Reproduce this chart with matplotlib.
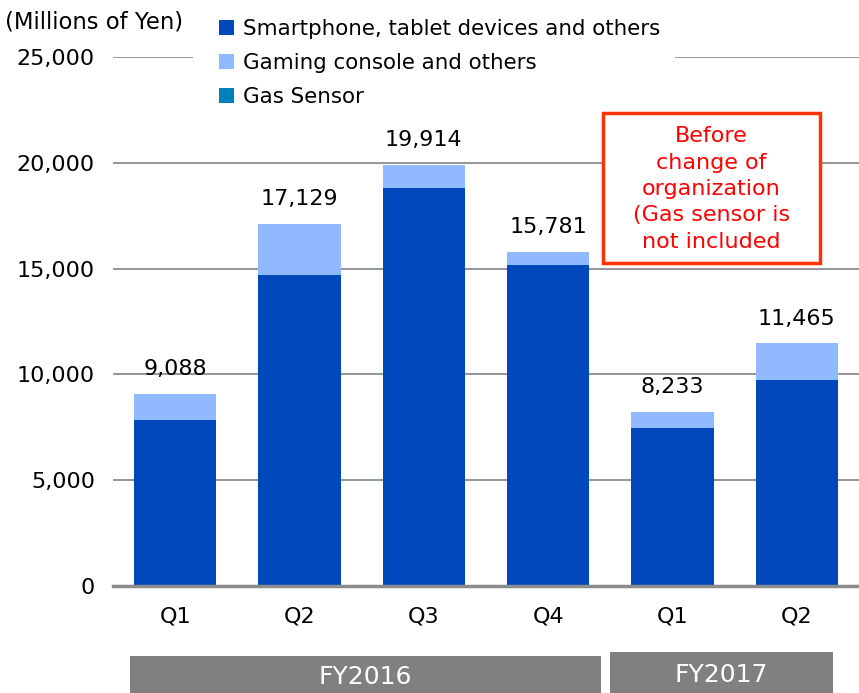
import matplotlib.pyplot as plt
from matplotlib.patches import Rectangle
import numpy as np

# quarterly sales by segment (millions of yen)
quarters = ['Q1', 'Q2', 'Q3', 'Q4', 'Q1', 'Q2']
totals = [9088, 17129, 19914, 15781, 8233, 11465]
smartphone = [7850, 14700, 18830, 15180, 7450, 9740]
gaming = [t - s for t, s in zip(totals, smartphone)]
gas_sensor = [0, 0, 0, 0, 0, 0]
years = ['FY2016', 'FY2017']
series_names = ['Smartphone, tablet devices and others',
                'Gaming console and others',
                'Gas Sensor']
note = 'Before\nchange of\norganization\n(Gas sensor is\nnot included'

dark = '#0047BB'
light = '#91B9FF'
teal = '#0080BC'
grid_col = '#8c8c8c'

plt.rcParams['font.family'] = 'DejaVu Sans'
W, H = 859, 693
fig = plt.figure(figsize=(W / 100, H / 100), dpi=100)
ax = fig.add_axes([113 / W, 107 / H, 746 / W, 529 / H])

x = np.arange(len(quarters))
w = 0.66
b1 = ax.bar(x, smartphone, w, color=dark, zorder=3)
b2 = ax.bar(x, gaming, w, bottom=smartphone, color=light, zorder=3)
b3 = ax.bar(x, gas_sensor, w, bottom=totals, color=teal, zorder=3)

for xi, t in zip(x, totals):
    ax.text(xi, t + 880, f'{t:,}', ha='center', va='baseline', fontsize=16)

ax.set_xlim(-0.5, len(quarters) - 0.5)
ax.set_ylim(0, 25000)
ax.set_yticks(range(0, 25001, 5000))
ax.set_yticklabels([f'{v:,}' for v in range(0, 25001, 5000)])
ax.set_xticks(x)
ax.set_xticklabels(quarters)
ax.tick_params(axis='y', length=0, labelsize=16, pad=13)
ax.tick_params(axis='x', length=0, labelsize=16, pad=15)
ax.yaxis.grid(True, color=grid_col, lw=1.3, zorder=0)
for s in ['top', 'right', 'left']:
    ax.spines[s].set_visible(False)
ax.spines['bottom'].set_color(grid_col)
ax.spines['bottom'].set_linewidth(2.5)
ax.spines['bottom'].set_zorder(4)

# white strip behind the legend so the top gridline is broken there
fig.patches.append(Rectangle((193 / W, (H - 62) / H), 482 / W, 10 / H,
                             transform=fig.transFigure, facecolor='white',
                             edgecolor='none', zorder=5))

leg = fig.legend([b1, b2, b3], series_names, loc='upper left',
                 bbox_to_anchor=(219 / W, (H - 19) / H), frameon=False,
                 fontsize=15.4, handlelength=0.68, handleheight=0.68,
                 handletextpad=0.45, labelspacing=0.66, borderpad=0,
                 borderaxespad=0)
leg.set_zorder(6)

fig.text(5 / W, (H - 22) / H, '(Millions of Yen)', fontsize=16.4,
         va='center', ha='left')

# note box
fig.patches.append(Rectangle((603 / W, (H - 263) / H), 217 / W, 150 / H,
                             transform=fig.transFigure, facecolor='white',
                             edgecolor='#FF3300', lw=2.5, zorder=5))
fig.text(711.5 / W, (H - 189) / H, note, color='#FF0000', fontsize=16,
         ha='center', va='center', linespacing=1.4, zorder=6)

# fiscal year bands under the quarter labels
bands = [(130, 601, 656), (610, 833, 652)]
for (x0, x1, top), label in zip(bands, years):
    fig.patches.append(Rectangle((x0 / W, 0), (x1 - x0) / W, (H - top) / H,
                                 transform=fig.transFigure,
                                 facecolor='#808080', edgecolor='none'))
    fig.text((x0 + x1) / 2 / W, (H - (top + 693) / 2 - 2) / H, label,
             color='white', fontsize=18, ha='center', va='center')

fig.savefig('out.png', dpi=100)
